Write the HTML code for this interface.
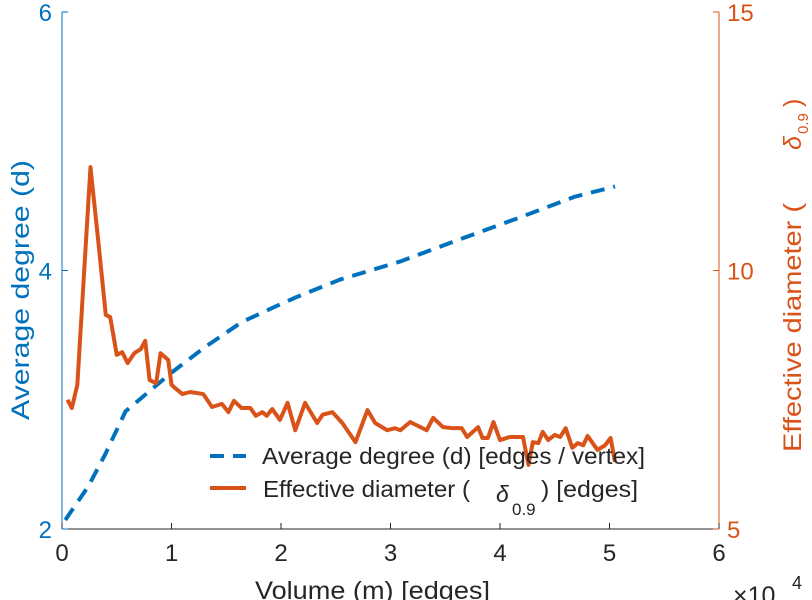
<!DOCTYPE html>
<html><head><meta charset="utf-8"><style>
body{margin:0;background:#fff;}
svg{display:block;font-family:"Liberation Sans",sans-serif;}
</style></head><body>
<svg id="chart" width="812" height="600" viewBox="0 0 812 600">
<g id="axes"></g><g id="series"></g><g id="legend"></g>
</svg>
<script>
const xTicks=[0,1,2,3,4,5,6];
const leftTicks=[2,4,6];
const rightTicks=[5,10,15];
const degX=[0.03,0.24,0.39,0.58,1.00,1.31,1.64,1.92,2.13,2.54,3.09,3.63,4.18,4.68,5.05];
const degY=[2.07,2.33,2.57,2.91,3.21,3.41,3.60,3.71,3.79,3.93,4.07,4.24,4.41,4.57,4.65];
const diaX=[0.05,0.09,0.14,0.26,0.33,0.40,0.44,0.50,0.55,0.60,0.66,0.72,0.76,0.80,0.86,0.90,0.97,1.00,1.03,1.10,1.17,1.29,1.37,1.46,1.52,1.57,1.64,1.72,1.77,1.83,1.87,1.92,1.99,2.06,2.13,2.22,2.33,2.38,2.47,2.56,2.68,2.79,2.86,2.97,3.04,3.09,3.18,3.33,3.39,3.48,3.57,3.65,3.70,3.80,3.84,3.89,3.94,4.00,4.09,4.21,4.26,4.30,4.35,4.39,4.44,4.50,4.55,4.60,4.66,4.71,4.76,4.80,4.89,4.96,5.01,5.05];
const diaY=[7.50,7.34,7.79,12.00,10.59,9.14,9.10,8.37,8.42,8.21,8.40,8.48,8.64,7.88,7.82,8.40,8.27,7.79,7.73,7.61,7.65,7.61,7.36,7.42,7.26,7.48,7.34,7.34,7.19,7.26,7.19,7.32,7.11,7.44,6.91,7.44,7.05,7.21,7.26,7.05,6.68,7.30,7.05,6.91,6.95,6.91,7.07,6.91,7.15,6.97,6.95,6.95,6.78,6.97,6.76,6.76,7.07,6.72,6.78,6.78,6.24,6.68,6.66,6.88,6.72,6.82,6.78,6.95,6.57,6.66,6.62,6.80,6.53,6.62,6.76,6.30];

const L=62,R=719,T=12,B=529;
const sx=v=>L+(v-0)/6*(R-L);
const syL=v=>B-(v-2)/4*(B-T);
const syR=v=>B-(v-5)/10*(B-T);
const NS='http://www.w3.org/2000/svg';
const BLUE='#0072BD',ORANGE='#D95319',INK='#262626';
function mk(tag,attrs,parent,text){const e=document.createElementNS(NS,tag);for(const k in attrs)e.setAttribute(k,attrs[k]);if(text!==undefined)e.textContent=text;parent.appendChild(e);return e;}
const axes=document.getElementById('axes'),series=document.getElementById('series'),legend=document.getElementById('legend');

let e;
e=mk('line',{x1:L,y1:B,x2:R,y2:B,stroke:INK,'stroke-width':1},axes);


e=mk('line',{x1:L,y1:T,x2:L,y2:B,stroke:BLUE,'stroke-width':1},axes);


e=mk('line',{x1:R,y1:T,x2:R,y2:B,stroke:ORANGE,'stroke-width':1},axes);



xTicks.forEach(t=>{
  const x=sx(t);
  e=mk('line',{x1:x,y1:B,x2:x,y2:B-6,stroke:INK},axes);
  
  
  e=mk('text',{x:x,y:B+32,'text-anchor':'middle','font-size':24,fill:INK},axes,String(t));
  
  
});
leftTicks.forEach(t=>{
  const y=syL(t);
  e=mk('line',{x1:L,y1:y,x2:L+6,y2:y,stroke:BLUE},axes);
  
  
  e=mk('text',{x:L-10,y:y+9,'text-anchor':'end','font-size':24,fill:BLUE},axes,String(t));
  
  
});
rightTicks.forEach(t=>{
  const y=syR(t);
  e=mk('line',{x1:R,y1:y,x2:R-6,y2:y,stroke:ORANGE},axes);
  
  
  e=mk('text',{x:R+8,y:y+9,'text-anchor':'start','font-size':24,fill:ORANGE},axes,String(t));
  
  
});

e=mk('text',{x:255,y:599,'font-size':25,fill:INK,textLength:235,lengthAdjust:'spacingAndGlyphs'},axes,'Volume (m) [edges]');


e=mk('text',{x:733,y:604,'font-size':25,fill:INK},axes,'×10');


mk('text',{x:792,y:589,'font-size':18,fill:INK},axes,'4');
e=mk('text',{x:0,y:0,'font-size':25,fill:BLUE,textLength:260,lengthAdjust:'spacingAndGlyphs',transform:'translate(29,420) rotate(-90)'},axes,'Average degree (d)');


e=mk('g',{transform:'translate(801,452) rotate(-90)'},axes);


mk('text',{x:0,y:0,'font-size':25,fill:ORANGE,textLength:249,lengthAdjust:'spacingAndGlyphs'},e,'Effective diameter (');
mk('text',{x:302,y:0,'font-size':25,'font-style':'italic',fill:ORANGE},e,'δ');
mk('text',{x:318,y:7,'font-size':15,fill:ORANGE},e,'0.9');
mk('text',{x:345,y:0,'font-size':25,fill:ORANGE},e,')');

const degPts=degX.map((x,i)=>sx(x)+','+syL(degY[i])).join(' ');
e=mk('polyline',{points:degPts,fill:'none',stroke:BLUE,'stroke-width':4,'stroke-dasharray':'14,9'},series);


const diaPts=diaX.map((x,i)=>sx(x)+','+syR(diaY[i])).join(' ');
e=mk('polyline',{points:diaPts,fill:'none',stroke:ORANGE,'stroke-width':4,'stroke-linejoin':'round'},series);



e=mk('g',{},legend);


mk('line',{x1:210,y1:456,x2:246,y2:456,stroke:BLUE,'stroke-width':4,'stroke-dasharray':'14,9'},e);
mk('text',{x:262,y:464,'font-size':23,fill:INK,textLength:383,lengthAdjust:'spacingAndGlyphs'},e,'Average degree (d) [edges / vertex]');
e=mk('g',{},legend);


mk('line',{x1:210,y1:488,x2:246,y2:488,stroke:ORANGE,'stroke-width':4},e);
mk('text',{x:263,y:497,'font-size':23,fill:INK,textLength:207,lengthAdjust:'spacingAndGlyphs'},e,'Effective diameter (');
mk('text',{x:496,y:502,'font-size':23,'font-style':'italic',fill:INK},e,'δ');
mk('text',{x:512,y:515,'font-size':17,fill:INK},e,'0.9');
mk('text',{x:541,y:497,'font-size':23,fill:INK,textLength:97,lengthAdjust:'spacingAndGlyphs'},e,') [edges]');
</script>
</body></html>
